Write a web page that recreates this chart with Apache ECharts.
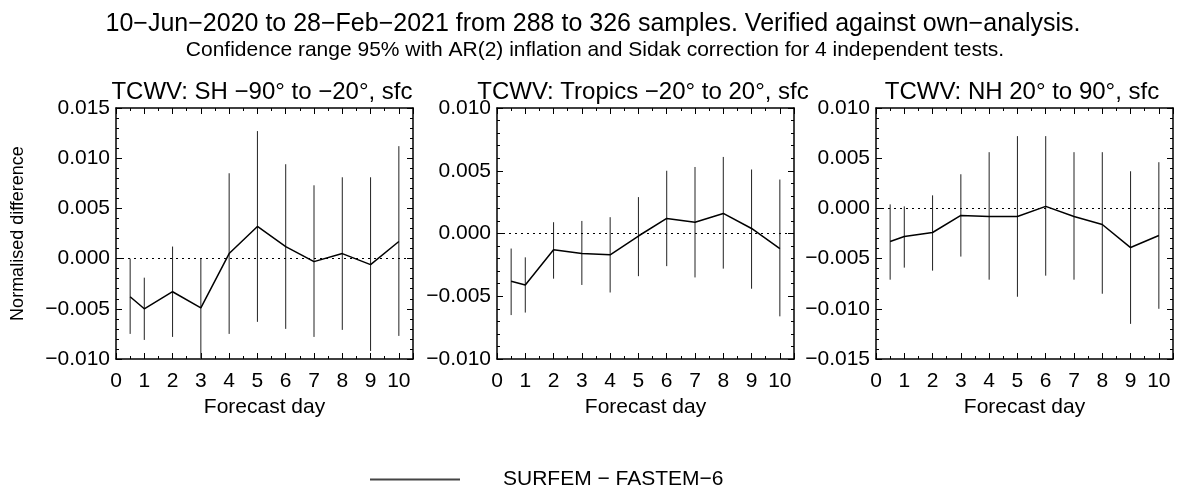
<!DOCTYPE html>
<html>
<head>
<meta charset="utf-8">
<script src="https://cdn.jsdelivr.net/npm/echarts@6/dist/echarts.min.js"></script>
<style>
    html, body { margin: 0; padding: 0; background: #fff; }
    #chart { width: 1177px; height: 485px; }
</style>
</head>
<body>
<div id="chart"></div>
<script>
    // forecast days (first point is day 0.5)
    var days = [0.5, 1, 2, 3, 4, 5, 6, 7, 8, 9, 10];
    var xTicks = ['0', '1', '2', '3', '4', '5', '6', '7', '8', '9', '10'];
    var panelTitles = [
        'TCWV: SH \u221290\u00b0 to \u221220\u00b0, sfc',
        'TCWV: Tropics \u221220\u00b0 to 20\u00b0, sfc',
        'TCWV: NH 20\u00b0 to 90\u00b0, sfc'
    ];
    var seriesName = 'SURFEM \u2212 FASTEM\u22126';

    // SH
    var shMean = [-0.0038, -0.0050, -0.0033, -0.0049, 0.0005, 0.0032, 0.0012, -0.0003, 0.0005, -0.0006, 0.0017];
    var shLow  = [-0.0075, -0.0081, -0.0078, -0.0099, -0.0075, -0.0063, -0.0070, -0.0078, -0.0071, -0.0092, -0.0077];
    var shHigh = [0.0000, -0.0019, 0.0012, 0.0000, 0.0085, 0.0127, 0.0094, 0.0073, 0.0081, 0.0081, 0.0112];
    // Tropics
    var trMean = [-0.0038, -0.0041, -0.0013, -0.0016, -0.0017, -0.0002, 0.0012, 0.0009, 0.0016, 0.0004, -0.0012];
    var trLow  = [-0.0065, -0.0063, -0.0036, -0.0041, -0.0047, -0.0034, -0.0026, -0.0035, -0.0028, -0.0044, -0.0066];
    var trHigh = [-0.0012, -0.0019, 0.0009, 0.0010, 0.0013, 0.0029, 0.0050, 0.0053, 0.0061, 0.0051, 0.0043];
    // NH
    var nhMean = [-0.0033, -0.0028, -0.0024, -0.0007, -0.0008, -0.0008, 0.0002, -0.0008, -0.0016, -0.0039, -0.0027];
    var nhLow  = [-0.0071, -0.0059, -0.0062, -0.0048, -0.0071, -0.0088, -0.0067, -0.0071, -0.0085, -0.0115, -0.0100];
    var nhHigh = [0.0004, 0.0002, 0.0013, 0.0034, 0.0056, 0.0072, 0.0072, 0.0056, 0.0056, 0.0037, 0.0046];

    var yMins = [-0.010, -0.010, -0.015];
    var yMaxs = [0.015, 0.010, 0.010];

    var means = [shMean, trMean, nhMean];
    var lows = [shLow, trLow, nhLow];
    var highs = [shHigh, trHigh, nhHigh];
    var gridLefts = [116, 497, 876];

    var font = 'Liberation Sans';
    var myChart = echarts.init(document.getElementById('chart'));

    function fmtY(v) {
        if (Math.abs(v) < 1e-9) return '0.000';
        return (v < 0 ? '\u2212' : '') + Math.abs(v).toFixed(3);
    }

    var titles = [
        {text: '10\u2212Jun\u22122020 to 28\u2212Feb\u22122021 from 288 to 326 samples. Verified against own\u2212analysis.',
         left: 588, top: 7, textAlign: 'center',
         textStyle: {fontFamily: font, fontSize: 25, fontWeight: 'normal', color: '#000'}},
        {text: 'Confidence range 95% with AR(2) inflation and Sidak correction for 4 independent tests.',
         left: 590, top: 35, textAlign: 'center',
         textStyle: {fontFamily: font, fontSize: 21, fontWeight: 'normal', color: '#000'}}
    ];
    var grids = [], xAxes = [], yAxes = [], series = [];

    for (var p = 0; p < 3; p++) {
        titles.push({
            text: panelTitles[p], left: gridLefts[p] + 141, top: 75, textAlign: 'center',
            textStyle: {fontFamily: font, fontSize: 24, fontWeight: 'normal', color: '#000'}
        });
        grids.push({left: gridLefts[p], top: 108, width: 297, height: 251});

        var tickStyle = {show: true, inside: true, length: 6, lineStyle: {color: '#000', width: 1}};
        // bottom x axis
        xAxes.push({
            gridIndex: p, type: 'value', min: 0, max: 10.5, interval: 1,
            position: 'bottom',
            name: 'Forecast day', nameLocation: 'middle', nameGap: 31,
            nameTextStyle: {fontFamily: font, fontSize: 21, color: '#000'},
            axisLine: {onZero: false, lineStyle: {color: '#000', width: 1.5}},
            axisTick: tickStyle,
            minorTick: {show: true, splitNumber: 2, length: 3, lineStyle: {color: '#000'}},
            axisLabel: {
                fontFamily: font, fontSize: 21, color: '#000', margin: 12,
                formatter: function (v) {
                    var i = xTicks.indexOf(String(v));
                    return i >= 0 ? xTicks[i] : '';
                }
            },
            splitLine: {show: false}
        });
        // top x axis (frame)
        xAxes.push({
            gridIndex: p, type: 'value', min: 0, max: 10.5, interval: 1,
            position: 'top',
            axisLine: {onZero: false, lineStyle: {color: '#000', width: 1.5}},
            axisTick: tickStyle,
            minorTick: {show: true, splitNumber: 2, length: 3, lineStyle: {color: '#000'}},
            axisLabel: {show: false},
            splitLine: {show: false}
        });
        // left y axis
        yAxes.push({
            gridIndex: p, type: 'value', min: yMins[p], max: yMaxs[p], interval: 0.005,
            position: 'left',
            name: p === 0 ? 'Normalised difference' : '',
            nameLocation: 'middle', nameGap: 89, nameRotate: 90,
            nameTextStyle: {fontFamily: font, fontSize: 18, color: '#000'},
            axisLine: {show: true, onZero: false, lineStyle: {color: '#000', width: 1.5}},
            axisTick: tickStyle,
            minorTick: {show: true, splitNumber: 5, length: 3, lineStyle: {color: '#000'}},
            axisLabel: {fontFamily: font, fontSize: 21, color: '#000', margin: 6, formatter: fmtY},
            splitLine: {show: false}
        });
        // right y axis (frame)
        yAxes.push({
            gridIndex: p, type: 'value', min: yMins[p], max: yMaxs[p], interval: 0.005,
            position: 'right',
            axisLine: {show: true, onZero: false, lineStyle: {color: '#000', width: 1.5}},
            axisTick: tickStyle,
            minorTick: {show: true, splitNumber: 5, length: 3, lineStyle: {color: '#000'}},
            axisLabel: {show: false},
            splitLine: {show: false}
        });

        var lineData = [], barData = [];
        for (var i = 0; i < days.length; i++) {
            lineData.push([days[i], means[p][i]]);
            barData.push([days[i], lows[p][i], highs[p][i]]);
        }

        series.push({
            name: seriesName, type: 'line',
            xAxisIndex: p * 2, yAxisIndex: p * 2,
            data: lineData, symbol: 'none',
            lineStyle: {color: '#000', width: 1.5},
            itemStyle: {color: '#000'},
            markLine: {
                silent: true, symbol: 'none', label: {show: false},
                lineStyle: {color: '#000', type: [2, 4], width: 1},
                data: [{yAxis: 0}]
            },
            z: 3
        });
        series.push({
            name: 'err' + p, type: 'custom',
            xAxisIndex: p * 2, yAxisIndex: p * 2,
            data: barData,
            renderItem: function (params, api) {
                var a = api.coord([api.value(0), api.value(1)]);
                var b = api.coord([api.value(0), api.value(2)]);
                return {
                    type: 'line',
                    shape: {x1: a[0], y1: a[1], x2: b[0], y2: b[1]},
                    style: {stroke: '#222', lineWidth: 1}
                };
            },
            z: 2
        });
    }

    myChart.setOption({
        animation: false,
        backgroundColor: '#fff',
        title: titles,
        legend: {
            data: [{name: seriesName, icon: 'rect'}],
            left: 365, top: 464,
            itemWidth: 90, itemHeight: 2,
            itemStyle: {color: '#444'},
            textStyle: {fontFamily: font, fontSize: 21, color: '#000', padding: [0, 0, 0, 38]}
        },
        grid: grids,
        xAxis: xAxes,
        yAxis: yAxes,
        series: series
    });
</script>
</body>
</html>
